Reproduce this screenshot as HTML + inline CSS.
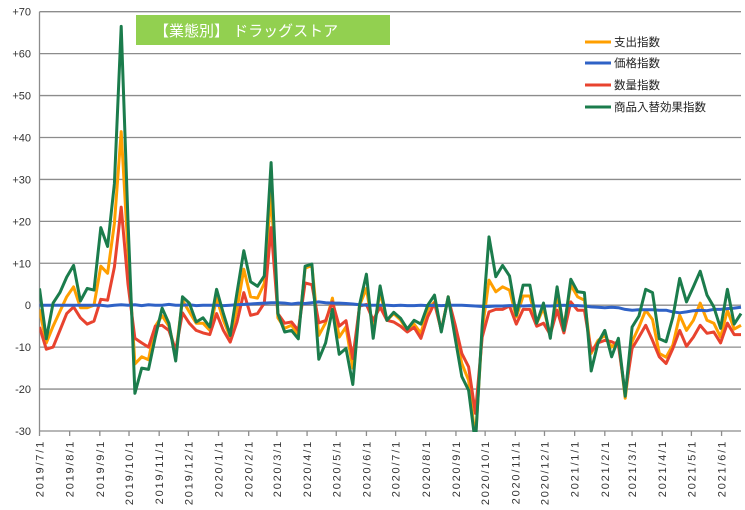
<!DOCTYPE html>
<html><head><meta charset="utf-8"><style>
body{margin:0;background:#fff;}
svg{display:block;font-family:"Liberation Sans","Noto Sans CJK JP",sans-serif;}
</style></head><body>
<svg id="chart" width="745" height="510" viewBox="0 0 745 510" xmlns="http://www.w3.org/2000/svg">
<rect width="745" height="510" fill="#fff"/>
<g id="grid"></g>
<g id="yaxis"></g>
<g id="xaxis"></g>
<g id="series"></g>
<g>
<rect x="136" y="15" width="254" height="30" fill="#92d050"/>
<text x="154" y="36" font-size="15" fill="#fff">【業態別】 ドラッグストア</text>
</g>
<g id="legend"></g>
</svg>
<script>
const monthLabels=["2019/7/1","2019/8/1","2019/9/1","2019/10/1","2019/11/1","2019/12/1","2020/1/1","2020/2/1","2020/3/1","2020/4/1","2020/5/1","2020/6/1","2020/7/1","2020/8/1","2020/9/1","2020/10/1","2020/11/1","2020/12/1","2021/1/1","2021/2/1","2021/3/1","2021/4/1","2021/5/1","2021/6/1"];
const monthDays=[0,31,62,92,123,153,184,215,244,275,305,336,366,397,428,458,489,519,550,581,609,640,670,701];
const yTicks=[70,60,50,40,30,20,10,0,-10,-20,-30];
const seriesNames=["支出指数","価格指数","数量指数","商品入替効果指数"];
const spending=[-1,-9,-5,-1.5,2,4.4,-0.6,-0.6,0,9.3,7.6,19.5,41.4,13,-14,-12.3,-13,-5,-2.5,-5,-11.5,1.2,-1.6,-4.3,-4.3,-6,1.7,-3.6,-7.6,-1,8.6,2,1.7,5.2,27,-3,-5.5,-4.8,-7,8.8,9.5,-7.2,-4.2,1.7,-7.6,-5.2,-15,0,4,-6,3,-3.6,-2,-3.5,-6,-4.5,-6.7,-1,0.8,-6,2,-6,-13.9,-17.9,-32,-6,6,3.2,4.4,3.6,-2.8,2.2,2.2,-4.3,-0.7,-7.2,2,-5,4.8,2,1.2,-11.5,-8.4,-7.2,-10,-8.4,-22.2,-8.7,-5.2,-1.2,-3.4,-11.5,-12.4,-9.5,-2.4,-6,-3.6,0.5,-3.6,-4.3,-7.6,-1.2,-5.7,-4.8];
const price=[0,0,0,0,0,0,0,0,0,0,-0.2,0,0.1,0,0.1,-0.1,0.1,0,0,0.2,0,0,0.1,-0.1,0,0,0,-0.1,0,0.1,0.2,0.3,0.4,0.5,0.6,0.6,0.5,0.3,0.5,0.4,0.6,0.8,0.6,0.5,0.5,0.4,0.3,0.1,0,0,0,0,-0.1,0,-0.1,-0.1,0,-0.1,0,-0.1,0,0,0,-0.1,-0.2,-0.3,-0.3,-0.2,-0.2,-0.1,-0.1,-0.2,-0.1,-0.2,-0.2,-0.2,-0.1,0,-0.1,-0.1,-0.2,-0.4,-0.5,-0.6,-0.5,-0.6,-1,-1.2,-1.1,-1.1,-1.1,-1.2,-1.2,-1.6,-1.8,-1.6,-1.3,-1.2,-1.3,-1,-1,-0.8,-0.7,-0.5];
const quantity=[-5.2,-10.5,-10,-6,-2,-0.4,-3,-4.5,-3.8,1.4,1.2,9.1,23.4,5,-7.9,-9,-10,-5,-4.8,-6,-10.7,-1.8,-4.3,-6,-6.6,-7,-2,-6,-8.8,-4,3,-2.4,-2,0.5,18.5,-2,-4.3,-4,-6,5.3,4.9,-4.2,-3.7,0.8,-5,-3.7,-12.7,-0.2,0.2,-3.6,-0.4,-3.6,-4,-5,-6.4,-5.3,-7.9,-2.8,0.5,-6,1.7,-4.5,-11.5,-14.7,-25.8,-7.6,-1.6,-1,-1,-0.2,-4.5,-1,-1,-5,-4.3,-7,-1.2,-6.6,0.8,-1.2,-1.2,-11,-9,-8.4,-8.7,-9.5,-21,-10.3,-7.6,-4.8,-8.4,-12.3,-13.9,-10.3,-6,-9.8,-7.6,-4.8,-6.7,-6.4,-9,-4.3,-7,-7];
const substitution=[4,-8,0.5,3,6.7,9.5,1,4,3.6,18.5,14,29,66.5,20,-21,-15,-15.3,-7.6,-0.7,-4.3,-13.3,2,0.5,-4,-3,-5.2,3.8,-2,-7.2,3,13,5.6,4.5,7,34,-2,-6.4,-6,-8,9.3,9.8,-12.9,-9,-1,-11.7,-10.3,-18.9,0.2,7.4,-7.9,4.6,-3.6,-1.7,-3.1,-5.7,-3.6,-4.5,0,2.4,-6.4,2,-7.6,-17,-20.3,-33,-4.8,16.3,6.8,9.5,7,-2.4,4.8,4.8,-4.3,0.5,-7.9,4.4,-6,6.2,3.2,3,-15.7,-9,-6,-12.3,-7.9,-21.7,-5.2,-2.6,3.8,3,-8,-8.7,-2.8,6.4,0.8,4.4,8.1,2.4,-0.4,-5.5,3.8,-4.5,-2];
const colors=["#ff9f00","#2f62c6","#e8432f","#1b7c4c"];

const NS="http://www.w3.org/2000/svg";
const X0=39.5,X1=741,Y_TOP=11.7,Y_BOT=431;
const pxPerDay=0.973;
function xDay(d){return X0+d*pxPerDay;}
function xWeek(i){return xDay(i*7);}
function yVal(v){return Y_TOP+(70-v)*(Y_BOT-Y_TOP)/100;}
function mk(tag,attrs,parent){const e=document.createElementNS(NS,tag);for(const k in attrs)e.setAttribute(k,attrs[k]);parent.appendChild(e);return e;}

const grid=document.getElementById('grid'),yax=document.getElementById('yaxis'),xax=document.getElementById('xaxis');
yTicks.forEach(t=>{
  const y=yVal(t);
  const l=mk('line',{x1:X0,x2:X1,y1:y,y2:y,stroke:'#8c8c8c','stroke-width':1.3},grid);
  
  
  const tx=mk('text',{x:31,y:y+4,'font-size':11,'text-anchor':'end',fill:'#333'},yax);
  
  
  tx.textContent=t>0?'+'+t:String(t);
});
const axl=mk('line',{x1:X0,x2:X0,y1:Y_TOP,y2:Y_BOT,stroke:'#8c8c8c','stroke-width':1.3},yax);


monthLabels.forEach((m,i)=>{
  const x=xDay(monthDays[i]);
  const tk=mk('line',{x1:x,x2:x,y1:Y_BOT,y2:Y_BOT+5,stroke:'#8c8c8c','stroke-width':1.3},xax);
  
  
  const tx=mk('text',{x:0,y:0,'font-size':11,'text-anchor':'end',fill:'#333',transform:`translate(${x+4},${Y_BOT+9}) rotate(-90)`,'letter-spacing':'1.8'},xax);
  
  
  tx.textContent=m;
});

const sg=document.getElementById('series');
const defs=mk('defs',{},sg);
const cp=mk('clipPath',{id:'plotclip'},defs);
mk('rect',{x:X0,y:0,width:X1-X0+2,height:Y_BOT+1},cp);
const allSeries=[spending,price,quantity,substitution];
const seriesIds=['spending-index-line','price-index-line','quantity-index-line','substitution-index-line'];
[0,2,1,3].forEach(s=>{
  const pts=allSeries[s].map((v,i)=>xWeek(i).toFixed(1)+','+yVal(v).toFixed(1)).join(' ');
  const pl=mk('polyline',{points:pts,fill:'none',stroke:colors[s],'stroke-width':3,'stroke-linejoin':'round','clip-path':'url(#plotclip)'},sg);
  
  
});

const lg=document.getElementById('legend');
const legendY=[42,63,85,107];
seriesNames.forEach((n,i)=>{
  const g=mk('g',{},lg);
  
  
  mk('line',{x1:585,x2:611,y1:legendY[i],y2:legendY[i],stroke:colors[i],'stroke-width':3},g);
  const t=mk('text',{x:614,y:legendY[i]+4,'font-size':11.5,fill:'#222'},g);
  t.textContent=n;
});
</script>
</body></html>
